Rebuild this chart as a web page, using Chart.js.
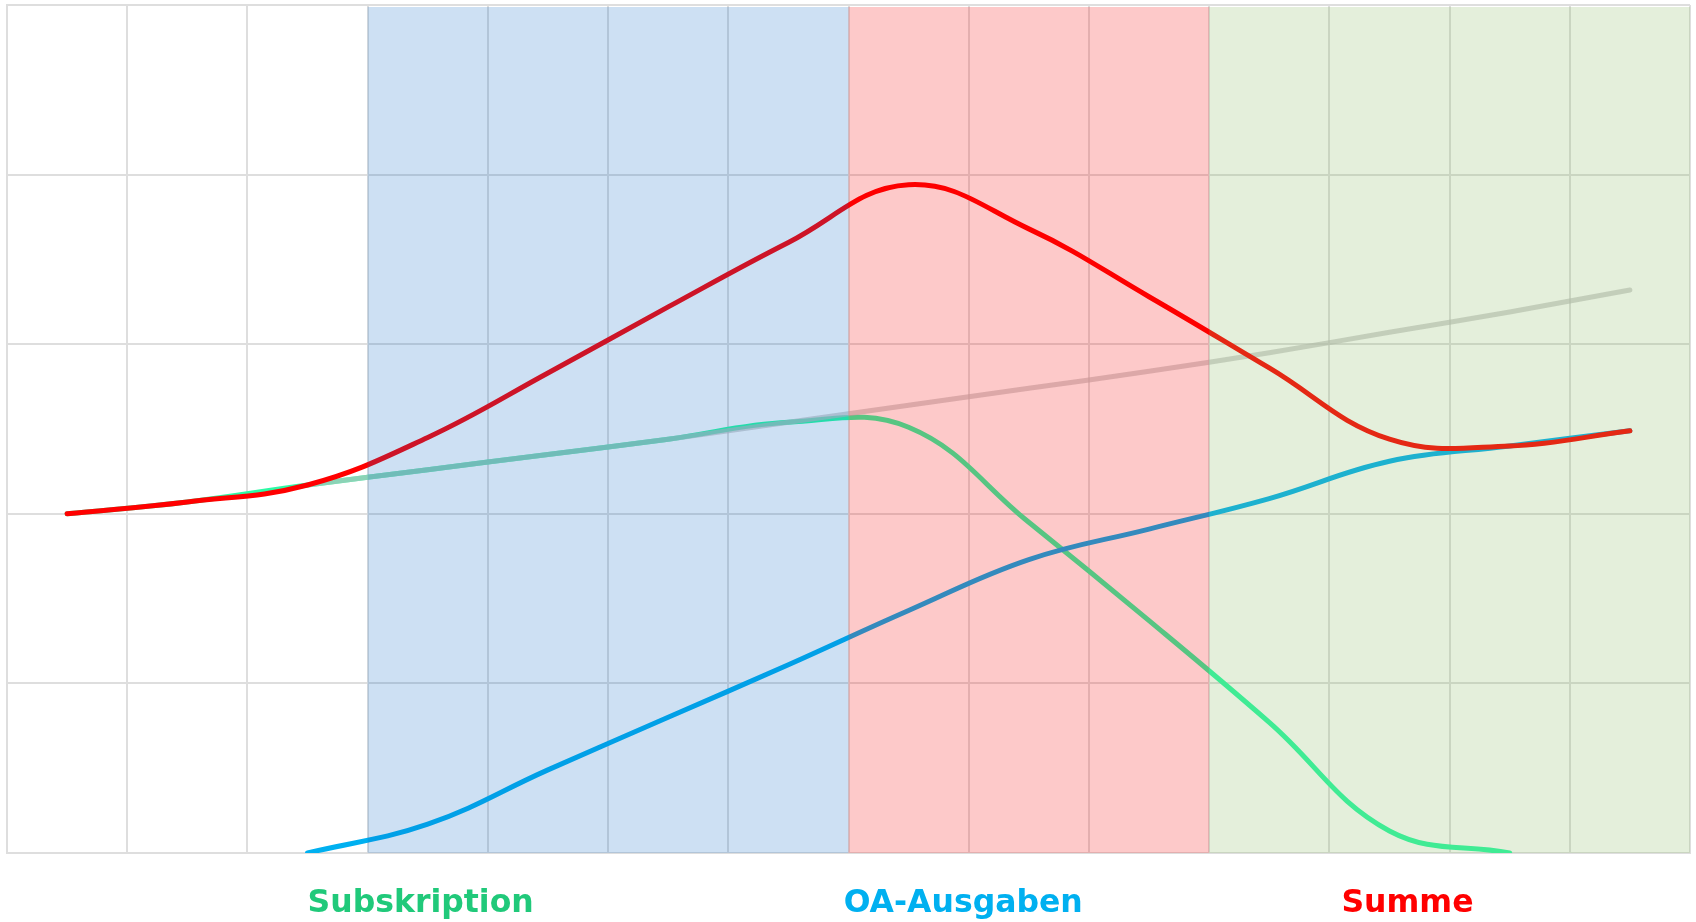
<!DOCTYPE html>
<html>
<head>
<meta charset="utf-8">
<style>
  html, body { margin: 0; padding: 0; background: #ffffff; }
  #wrap { width: 1696px; height: 922px; }
</style>
<script src="https://cdn.jsdelivr.net/npm/chart.js@4/dist/chart.umd.min.js"></script>
</head>
<body>
<div id="wrap"><canvas id="chart" width="1696" height="922"></canvas></div>
<script>
// Periods along the horizontal axis (not labelled on the chart)
const periods = ['1', '2', '3', '4', '5', '6', '7', '8', '9', '10', '11', '12', '13', '14'];

// Series names as shown beneath the plot
const seriesNames = ['Subskription', 'OA-Ausgaben', 'Summe'];

// Subscription costs
const subscription = [2.00, 2.07, 2.17, 2.26, 2.35, 2.44, 2.54, 2.51, 1.95, 1.37, 0.77, 0.13, 0.00, null];
// Open-access publishing costs
const oaSpending = [null, null, 0.00, 0.17, 0.49, 0.80, 1.11, 1.43, 1.73, 1.91, 2.09, 2.31, 2.40, 2.49];
// Total of both
const total = [2.00, 2.07, 2.17, 2.45, 2.83, 3.22, 3.60, 3.94, 3.68, 3.28, 2.86, 2.44, 2.40, 2.49];
// Subscription costs if nothing changed
const subscriptionTrend = [null, null, 2.17, 2.26, 2.35, 2.44, 2.54, 2.64, 2.74, 2.84, 2.95, 3.07, 3.19, 3.32];

// Value-axis ticks (grid only)
const valueTicks = [0, 1, 2, 3, 4, 5];

// Transition phases: first and last period of each shaded band
const phaseFirst = [3, 7, 10];
const phaseLast = [6, 9, 13];

const bandColors = ['rgba(5,100,195,0.2)', 'rgba(245,0,0,0.21)', 'rgba(130,180,90,0.22)'];
const nameColors = ['#20c97a', '#00b0f0', '#ff0000'];

// Shaded phases are laid translucently over the lines
const phaseBands = {
  id: 'phaseBands',
  afterDatasetsDraw(chart) {
    const { ctx, chartArea, scales: { x } } = chart;
    ctx.save();
    phaseFirst.forEach((first, i) => {
      const left = x.getPixelForValue(first - 0.5);
      const right = x.getPixelForValue(phaseLast[i] + 0.5);
      ctx.fillStyle = bandColors[i];
      ctx.fillRect(left, chartArea.top + 2, right - left, chartArea.bottom - chartArea.top - 2);
    });
    ctx.restore();
  }
};

// Series names written in their colours below the plot
const seriesCaptions = {
  id: 'seriesCaptions',
  afterDraw(chart) {
    const { ctx, chartArea, scales: { x } } = chart;
    const anchors = [2, 6.46, 10.6];
    ctx.save();
    ctx.font = 'bold 31.5px "DejaVu Sans", Verdana, sans-serif';
    ctx.textAlign = 'left';
    ctx.textBaseline = 'alphabetic';
    seriesNames.forEach((name, i) => {
      ctx.fillStyle = nameColors[i];
      ctx.fillText(name, x.getPixelForValue(anchors[i]), chartArea.bottom + 59);
    });
    ctx.restore();
  }
};

const lineStyle = {
  borderWidth: 5,
  pointRadius: 0,
  pointHoverRadius: 0,
  tension: 0.4,
  fill: false,
  spanGaps: false,
  borderCapStyle: 'round',
  borderJoinStyle: 'round'
};

new Chart(document.getElementById('chart'), {
  type: 'line',
  data: {
    labels: periods,
    datasets: [
      Object.assign({ label: seriesNames[2], data: total, borderColor: '#ff0000', order: 0 }, lineStyle),
      Object.assign({ label: seriesNames[1], data: oaSpending, borderColor: '#00b0f0', order: 1 }, lineStyle),
      Object.assign({ label: 'Trend', data: subscriptionTrend, borderColor: 'rgba(190,190,190,0.65)', order: 2 }, lineStyle),
      Object.assign({ label: seriesNames[0], data: subscription, borderColor: 'rgb(45,250,165)', order: 3 }, lineStyle)
    ]
  },
  options: {
    responsive: false,
    animation: false,
    events: [],
    layout: { padding: { left: 7, top: 5, right: 6, bottom: 69 } },
    plugins: {
      legend: { display: false },
      tooltip: { enabled: false },
      title: { display: false }
    },
    scales: {
      x: {
        type: 'category',
        offset: true,
        grid: { offset: true, color: '#dedede', lineWidth: 2, drawTicks: false },
        border: { display: true, color: '#dedede', width: 2 },
        ticks: { display: false }
      },
      y: {
        min: valueTicks[0],
        max: valueTicks[valueTicks.length - 1],
        afterBuildTicks(scale) { scale.ticks = valueTicks.map(v => ({ value: v })); },
        grid: { color: '#dedede', lineWidth: 2, drawTicks: false },
        border: { display: true, color: '#dedede', width: 2 },
        ticks: { display: false }
      }
    }
  },
  plugins: [phaseBands, seriesCaptions]
});
</script>
</body>
</html>
